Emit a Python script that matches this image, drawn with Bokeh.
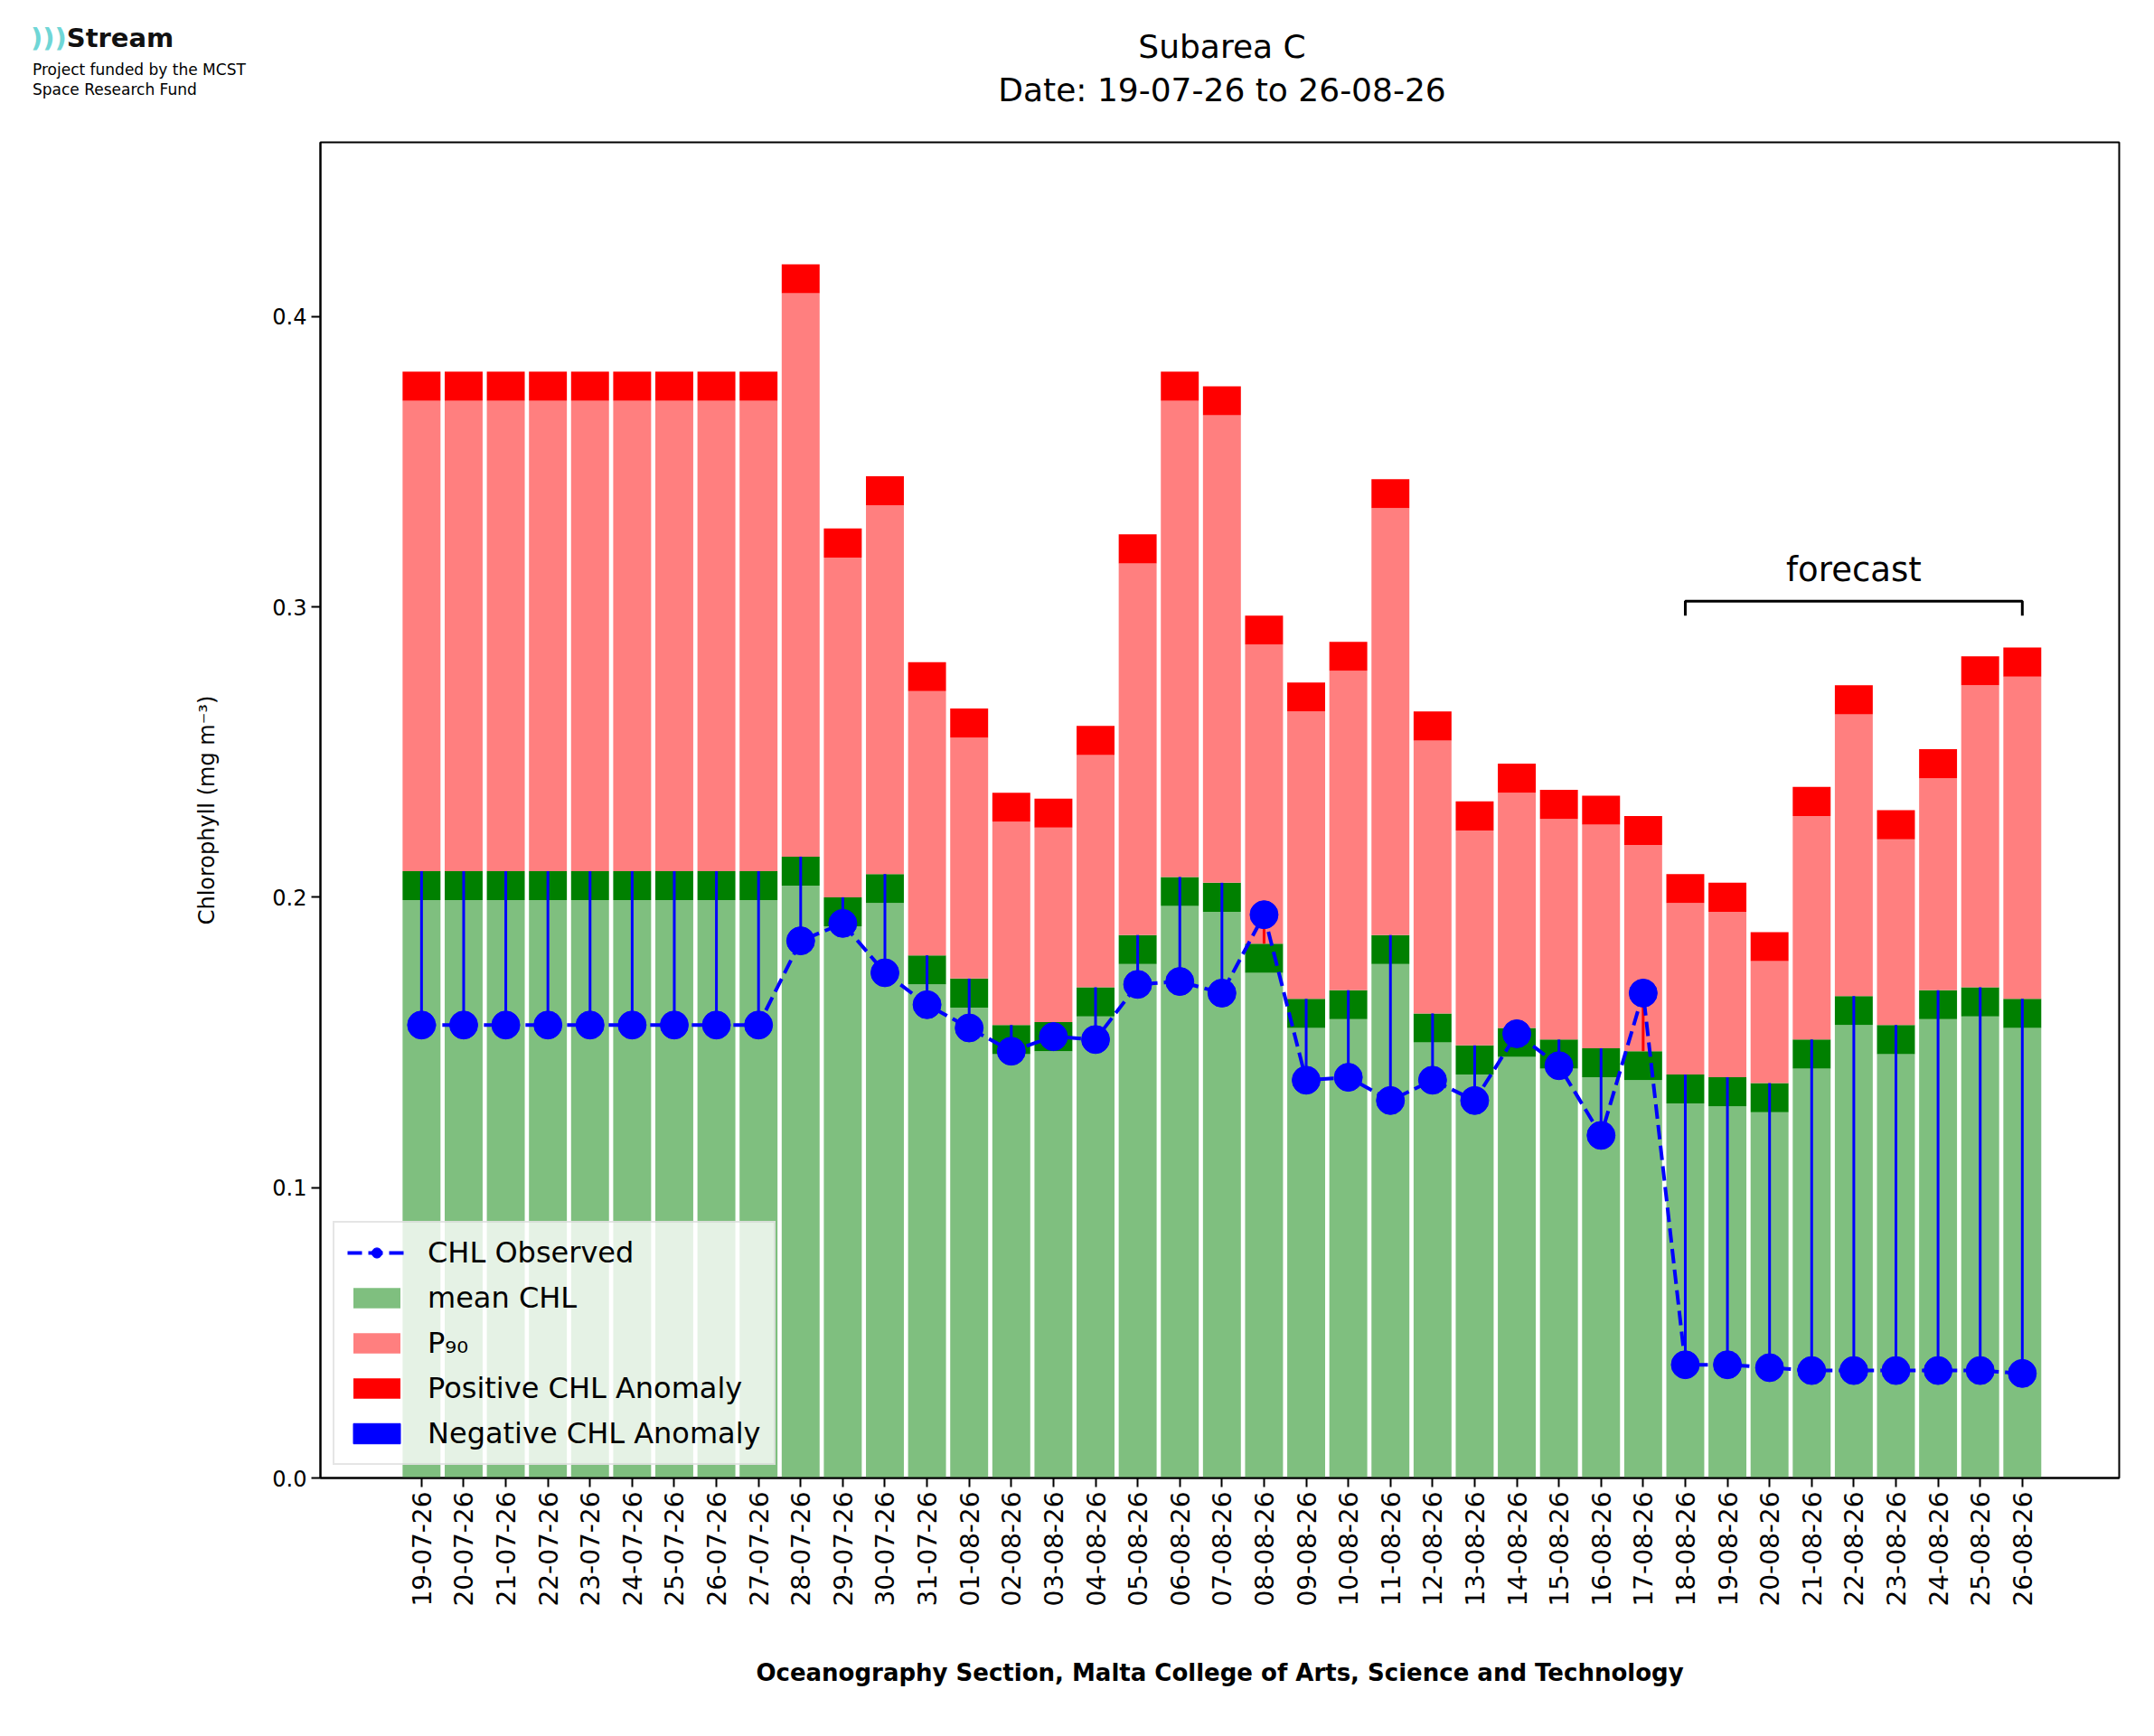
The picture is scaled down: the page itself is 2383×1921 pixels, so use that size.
import numpy as np
from bokeh.plotting import figure
from bokeh.layouts import column
from bokeh.models import Legend, LegendItem, Label, Range1d, FixedTicker, Div
from bokeh.embed import file_html
from bokeh.resources import INLINE

dates = ["19-07-26","20-07-26","21-07-26","22-07-26","23-07-26","24-07-26","25-07-26","26-07-26","27-07-26",
         "28-07-26","29-07-26","30-07-26","31-07-26","01-08-26","02-08-26","03-08-26","04-08-26","05-08-26",
         "06-08-26","07-08-26","08-08-26","09-08-26","10-08-26","11-08-26","12-08-26","13-08-26","14-08-26",
         "15-08-26","16-08-26","17-08-26","18-08-26","19-08-26","20-08-26","21-08-26","22-08-26","23-08-26",
         "24-08-26","25-08-26","26-08-26"]
mean_chl = [0.209]*9 + [0.214,0.200,0.208,0.180,0.172,0.156,0.157,0.169,0.187,0.207,0.205,0.184,0.165,0.168,
            0.187,0.160,0.149,0.155,0.151,0.148,0.147,0.139,0.138,0.136,0.151,0.166,0.156,0.168,0.169,0.165]
p90 = [0.381]*9 + [0.418,0.327,0.345,0.281,0.265,0.236,0.234,0.259,0.325,0.381,0.376,0.297,0.274,0.288,
       0.344,0.264,0.233,0.246,0.237,0.235,0.228,0.208,0.205,0.188,0.238,0.273,0.230,0.251,0.283,0.286]
obs = [0.156]*9 + [0.185,0.191,0.174,0.163,0.155,0.147,0.152,0.151,0.170,0.171,0.167,0.194,0.137,0.138,
       0.130,0.137,0.130,0.153,0.142,0.118,0.167,0.039,0.039,0.038,0.037,0.037,0.037,0.037,0.037,0.036]
forecast_start, forecast_end = "18-08-26", "26-08-26"
title_lines = ["Subarea C", "Date: 19-07-26 to 26-08-26"]
logo_lines = ["Stream", "Project funded by the MCST", "Space Research Fund"]
band = 0.01

x = np.arange(len(dates))
mean_a = np.array(mean_chl); p90_a = np.array(p90); obs_a = np.array(obs)

W = 2367
HH = 130
BL, BR = 354, 23

F = "font-family:'DejaVu Sans';position:absolute;white-space:nowrap;color:black;"
html = (
    f'<div style="position:relative;width:{W}px;height:{HH}px;">'
    f'<div style="{F}left:34px;top:22px;font-size:29px;font-weight:bold;color:#111;">'
    f'<span style="color:#6fd6d6;">)))</span>{logo_lines[0]}</div>'
    f'<div style="{F}left:36px;top:66px;font-size:17px;line-height:22px;">{logo_lines[1]}<br>{logo_lines[2]}</div>'
    f'<div style="{F}left:0;width:{2 * 1352}px;top:28px;font-size:36px;line-height:48px;text-align:center;">'
    f'{title_lines[0]}<br>{title_lines[1]}</div>'
    '</div>'
)
h = Div(text=html, width=W, height=HH, margin=(0, 0, 0, 0))

p = figure(width=W, height=1905 - HH, output_backend="svg", toolbar_location=None,
           x_range=Range1d(-2.4, len(dates) - 1 + 2.3), y_range=Range1d(0, 0.46),
           min_border_left=BL, min_border_right=BR, min_border_top=27, min_border_bottom=270,
           margin=(0, 0, 0, 0))
p.grid.visible = False
p.outline_line_color = "black"; p.outline_line_width = 2

w = 0.9
g1 = p.vbar(x=x, bottom=0, top=mean_a - band, width=w, color="#7fbf7f", line_width=0)
p.vbar(x=x, bottom=mean_a - band, top=mean_a, width=w, color="#008000", line_width=0)
g2 = p.vbar(x=x, bottom=mean_a, top=p90_a - band, width=w, color="#ff7f7f", line_width=0)
g3 = p.vbar(x=x, bottom=p90_a - band, top=p90_a, width=w, color="#ff0000", line_width=0)

neg = obs_a < mean_a
p.segment(x0=x[neg], y0=obs_a[neg], x1=x[neg], y1=mean_a[neg], color="blue", line_width=3)
p.segment(x0=x[~neg], y0=mean_a[~neg], x1=x[~neg], y1=obs_a[~neg], color="red", line_width=3)

ln = p.line(x, obs_a, color="blue", line_width=4, line_dash="16 7")
sc = p.scatter(x, obs_a, size=31, color="blue")
negleg = p.vbar(x=[0], bottom=[0], top=[0], width=0, color="blue")

i0, i1 = dates.index(forecast_start), dates.index(forecast_end)
p.line([i0, i0, i1, i1], [0.297, 0.302, 0.302, 0.297], color="black", line_width=3)
p.add_layout(Label(x=(i0 + i1) / 2, y=0.306, text="forecast", text_align="center",
                   text_font_size="37px", text_font="DejaVu Sans", text_color="black"))

p.xaxis.ticker = FixedTicker(ticks=list(x))
p.xaxis.major_label_overrides = {int(i): d for i, d in enumerate(dates)}
p.xaxis.major_label_orientation = np.pi / 2
p.yaxis.ticker = FixedTicker(ticks=[0.0, 0.1, 0.2, 0.3, 0.4])
p.yaxis.major_label_overrides = {0.0: "0.0", 0.1: "0.1", 0.2: "0.2", 0.3: "0.3", 0.4: "0.4"}
for ax in (p.xaxis, p.yaxis):
    ax.major_label_text_font = "DejaVu Sans"
    ax.major_label_text_font_size = "24px"
    ax.major_label_text_color = "black"
    ax.axis_line_width = 2
    ax.major_tick_line_width = 2
    ax.major_tick_out = 10; ax.major_tick_in = 0
    ax.minor_tick_line_color = None
    ax.axis_label_text_font = "DejaVu Sans"
    ax.axis_label_text_font_style = "normal"
    ax.axis_label_text_color = "black"
p.xaxis.major_label_text_font_size = "28px"
p.yaxis.axis_label = "Chlorophyll (mg m⁻³)"
p.yaxis.axis_label_text_font_size = "24px"
p.yaxis.axis_label_standoff = 55
p.xaxis.axis_label = "Oceanography Section, Malta College of Arts, Science and Technology"
p.xaxis.axis_label_text_font_size = "26px"
p.xaxis.axis_label_text_font_style = "bold"
p.xaxis.axis_label_standoff = 55

legend = Legend(items=[
    LegendItem(label="CHL Observed", renderers=[ln, sc]),
    LegendItem(label="mean CHL", renderers=[g1]),
    LegendItem(label="P₉₀", renderers=[g2]),
    LegendItem(label="Positive CHL Anomaly", renderers=[g3]),
    LegendItem(label="Negative CHL Anomaly", renderers=[negleg]),
], location="bottom_left", label_text_font="DejaVu Sans", label_text_font_size="32px",
   label_text_color="black",
   background_fill_alpha=0.8, border_line_color="#cccccc", border_line_width=2,
   glyph_width=65, glyph_height=28, spacing=12, padding=14, margin=14, label_standoff=24)
p.add_layout(legend)

open("out.html", "w").write(file_html(column(h, p, spacing=0), INLINE))
